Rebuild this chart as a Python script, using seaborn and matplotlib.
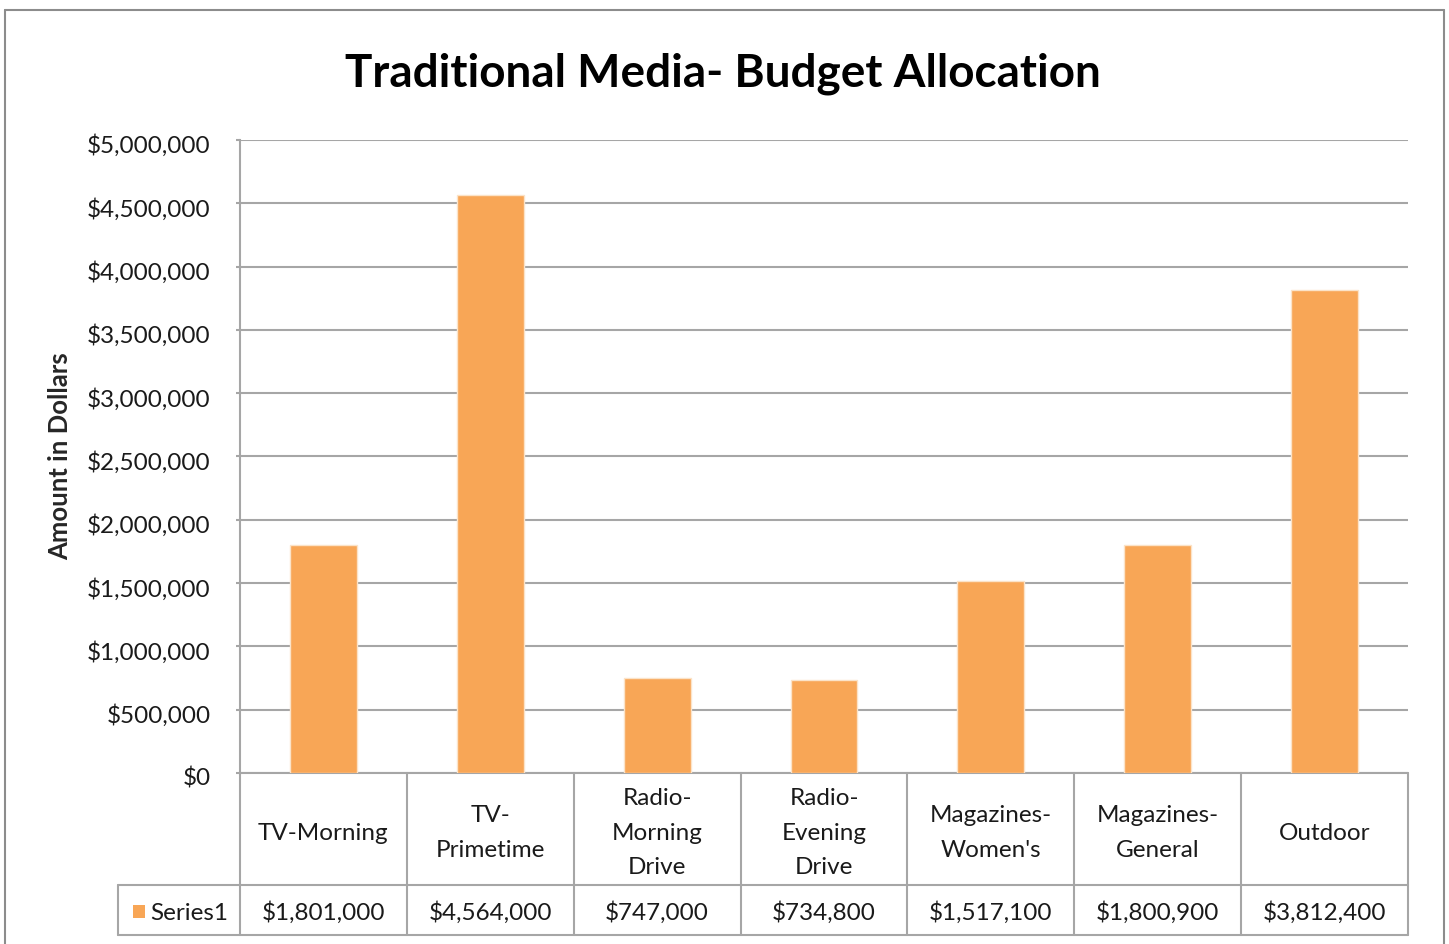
import matplotlib
matplotlib.use("Agg")
import matplotlib.pyplot as plt
import matplotlib.transforms as mtransforms
from matplotlib.lines import Line2D
from matplotlib.patches import Rectangle
from matplotlib.ticker import FuncFormatter, MultipleLocator
import seaborn as sns
import pandas as pd

categories = ["TV-Morning", "TV-\nPrimetime", "Radio-\nMorning\nDrive", "Radio-\nEvening\nDrive",
              "Magazines-\nWomen's", "Magazines-\nGeneral", "Outdoor"]
values = [1801000, 4564000, 747000, 734800, 1517100, 1800900, 3812400]
series_name = "Series1"
title = "Traditional Media- Budget Allocation"
ylabel = "Amount in Dollars"

bar_color = "#F8A656"
grid_color = "#A6A6A6"
font = ["Lato", "DejaVu Sans"]

sns.set_style("white")
plt.rcParams["font.family"] = font
plt.rcParams["text.color"] = "#1a1a1a"

W, H = 1449, 944
fig = plt.figure(figsize=(W / 100, H / 100), dpi=100)
fig.patch.set_facecolor("white")

ax_left, ax_right, ax_top, ax_bottom = 240, 1408, 140, 773
ax = fig.add_axes([ax_left / W, 1 - ax_bottom / H, (ax_right - ax_left) / W, (ax_bottom - ax_top) / H])

df = pd.DataFrame({"cat": categories, "val": values})
sns.barplot(data=df, x="cat", y="val", color=bar_color, width=0.4, ax=ax,
            edgecolor="#FBE3C8", linewidth=1.0, saturation=1, zorder=3)

n = len(categories)
ax.set_xlim(-0.5, n - 0.5)
ax.set_ylim(0, 5000000)
ax.yaxis.set_major_locator(MultipleLocator(500000))
ax.yaxis.set_major_formatter(FuncFormatter(lambda v, p: f"${v:,.0f}"))
ax.grid(axis="y", color=grid_color, linewidth=1.5, zorder=0)
ax.set_axisbelow(True)
for s in ["top", "right", "bottom"]:
    ax.spines[s].set_visible(False)
ax.spines["left"].set_color(grid_color)
ax.spines["left"].set_linewidth(1.5)
ax.tick_params(axis="y", which="major", left=True, length=3, width=1.5, color=grid_color,
               labelsize=17.5, pad=18, labelcolor="#1a1a1a")
shift = mtransforms.ScaledTranslation(0, -4 / 100, fig.dpi_scale_trans)
for t in ax.yaxis.get_major_ticks():
    t.label1.set_transform(t.label1.get_transform() + shift)
ax.set_xticks([])
ax.set_xlabel("")
ax.set_ylabel(ylabel, fontsize=18.5, fontweight="bold")
ax.yaxis.set_label_coords(-0.144, 0.5)

# Data table below the axes
tb = mtransforms.blended_transform_factory(ax.transData, ax.transAxes)
ah = ax_bottom - ax_top
y_row1 = 0.0
y_row2 = -(885 - ax_bottom) / ah
y_row3 = -(935 - ax_bottom) / ah
lw = 1.5
ax.add_line(Line2D([-0.5, n - 0.5], [y_row1, y_row1], transform=tb, color=grid_color, lw=lw, clip_on=False))
cw = (ax_right - ax_left) / n
leg_left_data = -0.5 - (ax_left - 118) / cw
for yy in (y_row2, y_row3):
    ax.add_line(Line2D([leg_left_data, n - 0.5], [yy, yy], transform=tb, color=grid_color, lw=lw, clip_on=False))
for i in range(n + 1):
    xx = i - 0.5
    ax.add_line(Line2D([xx, xx], [y_row1, y_row3], transform=tb, color=grid_color, lw=lw, clip_on=False))
ax.add_line(Line2D([leg_left_data, leg_left_data], [y_row2, y_row3], transform=tb, color=grid_color, lw=lw, clip_on=False))

y_cat = (y_row1 + y_row2) / 2 - 4 / ah
y_val = (y_row2 + y_row3) / 2 - 3 / ah
for i, (c, v) in enumerate(zip(categories, values)):
    ax.text(i, y_cat, c, transform=tb, ha="center", va="center", fontsize=17.5, linespacing=1.82, clip_on=False)
    ax.text(i, y_val, f"${v:,.0f}", transform=tb, ha="center", va="center", fontsize=17.5, clip_on=False)

# legend cell
sq_x = -0.5 - (ax_left - 133) / cw
sq_w = 12 / cw
sq_h = 13 / ah
ax.add_patch(Rectangle((sq_x, y_val - sq_h / 2 + 2 / ah), sq_w, sq_h, transform=tb, facecolor=bar_color,
                       edgecolor="none", clip_on=False))
ax.text(-0.5 - (ax_left - 150) / cw, y_val, series_name, transform=tb, ha="left", va="center",
        fontsize=17.5, clip_on=False)

# title
fig.text((350 + 1095) / 2 / W, 1 - 74 / H, title, ha="center", va="center", fontsize=33, fontweight="bold",
         color="black")

# outer frame
fc = "#8C8C8C"
fig.add_artist(Line2D([5 / W, 5 / W], [0, 1 - 10 / H], transform=fig.transFigure, color=fc, lw=1.5))
fig.add_artist(Line2D([5 / W, 1444 / W], [1 - 10 / H, 1 - 10 / H], transform=fig.transFigure, color=fc, lw=1.5))
fig.add_artist(Line2D([1444 / W, 1444 / W], [0, 1 - 10 / H], transform=fig.transFigure, color=fc, lw=1.5))

fig.savefig("out.png", dpi=100, facecolor="white")
